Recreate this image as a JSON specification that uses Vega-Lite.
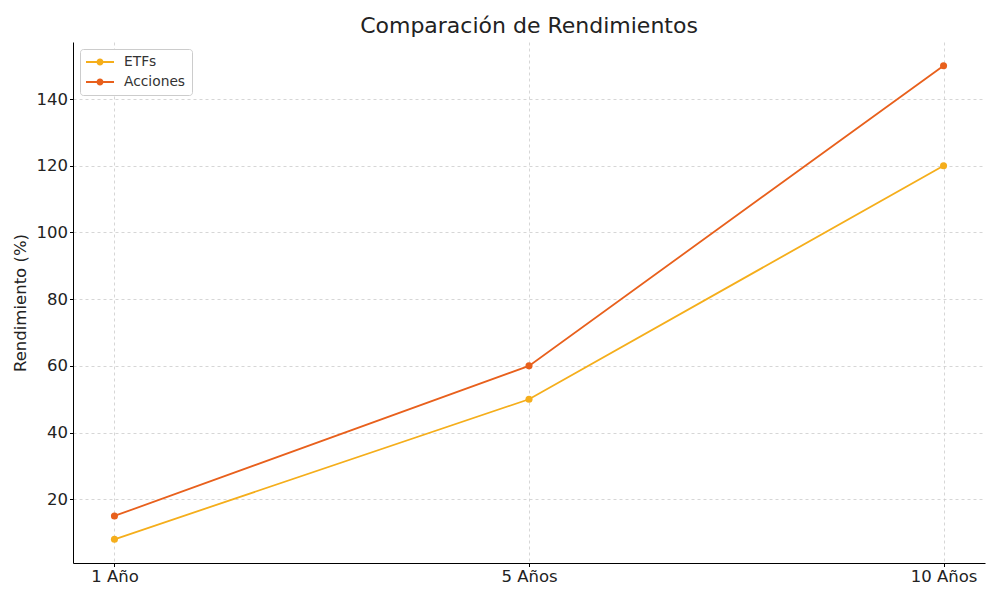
{
  "$schema": "https://vega.github.io/schema/vega-lite/v6.json",
  "description": "Comparación de Rendimientos ETFs vs Acciones",
  "width": 912,
  "height": 521,
  "autosize": "none",
  "padding": {"left": 73, "top": 42, "right": 15, "bottom": 37},
  "background": "white",
  "title": {
    "text": "Comparación de Rendimientos",
    "fontSize": 22,
    "font": "DejaVu Sans",
    "fontWeight": "normal",
    "color": "#222222",
    "anchor": "middle",
    "offset": 4
  },
  "data": {
    "values": [
      {"periodo": "1 Año", "tipo": "ETFs", "rendimiento": 8},
      {"periodo": "5 Años", "tipo": "ETFs", "rendimiento": 50},
      {"periodo": "10 Años", "tipo": "ETFs", "rendimiento": 120},
      {"periodo": "1 Año", "tipo": "Acciones", "rendimiento": 15},
      {"periodo": "5 Años", "tipo": "Acciones", "rendimiento": 60},
      {"periodo": "10 Años", "tipo": "Acciones", "rendimiento": 150}
    ]
  },
  "encoding": {
    "x": {
      "field": "periodo",
      "type": "ordinal",
      "sort": ["1 Año", "5 Años", "10 Años"],
      "scale": {"type": "point", "padding": 0.1},
      "axis": {
        "title": null,
        "labelAngle": 0,
        "labelFontSize": 16.5,
        "labelFont": "DejaVu Sans",
        "labelColor": "#222222",
        "labelPadding": 2,
        "ticks": true,
        "tickSize": 3.5,
        "tickColor": "black",
        "domainColor": "black",
        "domainWidth": 1,
        "grid": true,
        "gridColor": "#cccccc",
        "gridDash": [3, 3],
        "gridWidth": 0.8
      }
    },
    "y": {
      "field": "rendimiento",
      "type": "quantitative",
      "scale": {"domain": [0.9, 157.1], "nice": false, "zero": false},
      "axis": {
        "title": "Rendimiento (%)",
        "titleFontSize": 16.5,
        "titleFont": "DejaVu Sans",
        "titleFontWeight": "normal",
        "titleColor": "#222222",
        "titlePadding": 8,
        "values": [20, 40, 60, 80, 100, 120, 140],
        "labelFontSize": 16.5,
        "labelFont": "DejaVu Sans",
        "labelColor": "#222222",
        "labelPadding": 2,
        "ticks": true,
        "tickSize": 3.5,
        "tickColor": "black",
        "domainColor": "black",
        "domainWidth": 1,
        "grid": true,
        "gridColor": "#cccccc",
        "gridDash": [3, 3],
        "gridWidth": 0.8
      }
    },
    "color": {
      "field": "tipo",
      "type": "nominal",
      "sort": ["ETFs", "Acciones"],
      "scale": {"domain": ["ETFs", "Acciones"], "range": ["#F5AE1B", "#E8601C"]},
      "legend": {
        "title": null,
        "orient": "top-left",
        "offset": 7,
        "padding": 6,
        "strokeColor": "#cccccc",
        "fillColor": "white",
        "cornerRadius": 3,
        "labelFontSize": 13.8,
        "labelFont": "DejaVu Sans",
        "labelColor": "#333333",
        "labelOffset": 24,
        "rowPadding": 6,
        "symbolSize": 196,
        "symbolStrokeWidth": 0,
        "symbolType": "M -1 -0.15 L 3 -0.15 L 3 0.15 L -1 0.15 Z M 1.5 0 A 0.5 0.5 0 1 1 0.5 0 A 0.5 0.5 0 1 1 1.5 0 Z"
      }
    }
  },
  "layer": [
    {"mark": {"type": "line", "strokeWidth": 1.8}},
    {"mark": {"type": "point", "filled": true, "size": 50, "opacity": 1}}
  ],
  "config": {
    "view": {"stroke": null},
    "font": "DejaVu Sans"
  }
}
